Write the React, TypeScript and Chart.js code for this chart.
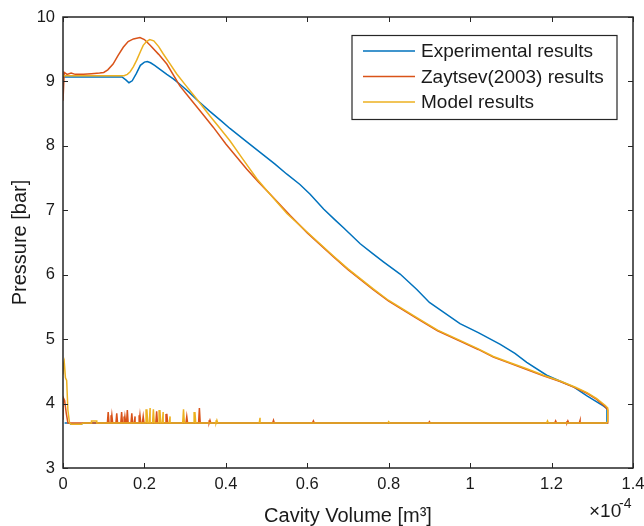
import React, { useEffect, useRef } from 'react';
import { Chart, registerables } from 'chart.js';

Chart.register(...registerables);

// ---------- data (volume in 1e-4 m^3, pressure in bar) ----------
const seriesLabels = ['Experimental results', 'Zaytsev(2003) results', 'Model results'];
const seriesColors = ['#0072BD', '#D95319', '#EDB120'];

const xTickValues = [0, 0.2, 0.4, 0.6, 0.8, 1, 1.2, 1.4];
const yTickValues = [3, 4, 5, 6, 7, 8, 9, 10];

const expVolume = [0, 0.05, 0.10, 0.145, 0.155, 0.162, 0.170, 0.180, 0.190, 0.200, 0.207, 0.215, 0.225, 0.240, 0.255, 0.271, 0.290, 0.310, 0.328, 0.360, 0.390, 0.410, 0.450, 0.492, 0.520, 0.550, 0.582, 0.607, 0.640, 0.670, 0.689, 0.730, 0.760, 0.787, 0.828, 0.869, 0.900, 0.930, 0.975, 1.020, 1.074, 1.110, 1.139, 1.188, 1.220, 1.254, 1.287, 1.310, 1.328, 1.336];
const expPressure = [9.07, 9.07, 9.07, 9.07, 9.02, 8.98, 9.01, 9.12, 9.25, 9.30, 9.31, 9.29, 9.25, 9.18, 9.11, 9.04, 8.94, 8.83, 8.72, 8.54, 8.38, 8.27, 8.07, 7.86, 7.72, 7.56, 7.40, 7.25, 7.02, 6.84, 6.73, 6.48, 6.33, 6.20, 6.01, 5.77, 5.57, 5.44, 5.24, 5.10, 4.92, 4.78, 4.64, 4.44, 4.35, 4.26, 4.12, 4.03, 3.96, 3.92];
const expReturnVolume = [1.336, 1.336, 0.050, 0.045, 0.020, 0.015, 0.004];
const expReturnPressure = [3.92, 3.70, 3.70, 3.68, 3.68, 3.70, 3.70];
const expSpikeVolume: number[] = [];
const expSpikePressure: number[] = [];

const zayVolume = [0, 0.003, 0.010, 0.020, 0.030, 0.050, 0.070, 0.090, 0.100, 0.110, 0.123, 0.135, 0.148, 0.160, 0.173, 0.189, 0.200, 0.214, 0.235, 0.255, 0.287, 0.310, 0.337, 0.369, 0.400, 0.451, 0.480, 0.509, 0.558, 0.600, 0.664, 0.700, 0.762, 0.800, 0.870, 0.920, 0.975, 1.020, 1.057, 1.100, 1.139, 1.180, 1.221, 1.260, 1.287, 1.310, 1.332, 1.338];
const zayPressure = [8.70, 9.14, 9.11, 9.13, 9.11, 9.11, 9.12, 9.13, 9.14, 9.18, 9.27, 9.40, 9.53, 9.62, 9.66, 9.68, 9.65, 9.56, 9.42, 9.27, 8.93, 8.75, 8.54, 8.29, 8.03, 7.64, 7.44, 7.25, 6.92, 6.65, 6.28, 6.08, 5.77, 5.59, 5.32, 5.13, 4.97, 4.84, 4.72, 4.62, 4.53, 4.43, 4.34, 4.24, 4.16, 4.07, 3.95, 3.90];
const zayReturnVolume = [1.338, 1.338, 0.012, 0.008, 0.004, 0.001, 0];
const zayReturnPressure = [3.90, 3.70, 3.70, 3.85, 4.05, 4.09, 3.75];
const zaySpikeVolume = [0.111, 0.120, 0.132, 0.144, 0.152, 0.158, 0.169, 0.177, 0.189, 0.197, 0.230, 0.255, 0.304, 0.335, 0.361, 0.517, 0.615, 0.90, 1.21, 1.24, 1.27];
const zaySpikePressure = [3.87, 3.82, 3.85, 3.87, 3.80, 3.90, 3.85, 3.80, 3.82, 3.80, 3.88, 3.84, 3.80, 3.93, 3.74, 3.74, 3.73, 3.72, 3.73, 3.73, 3.74];

const modelVolume = [0, 0.050, 0.100, 0.150, 0.158, 0.165, 0.173, 0.181, 0.190, 0.197, 0.205, 0.213, 0.223, 0.235, 0.246, 0.260, 0.279, 0.300, 0.328, 0.360, 0.382, 0.410, 0.440, 0.476, 0.500, 0.550, 0.600, 0.664, 0.700, 0.762, 0.800, 0.870, 0.920, 0.975, 1.020, 1.057, 1.100, 1.139, 1.180, 1.221, 1.260, 1.287, 1.310, 1.332, 1.338];
const modelPressure = [9.09, 9.09, 9.09, 9.09, 9.11, 9.15, 9.23, 9.33, 9.46, 9.56, 9.62, 9.65, 9.63, 9.54, 9.43, 9.30, 9.12, 8.95, 8.73, 8.47, 8.30, 8.08, 7.81, 7.49, 7.31, 6.95, 6.66, 6.29, 6.09, 5.78, 5.60, 5.33, 5.14, 4.98, 4.85, 4.73, 4.63, 4.54, 4.44, 4.35, 4.25, 4.17, 4.08, 3.97, 3.93];
const modelReturnVolume = [1.338, 1.338, 1.335, 0.083, 0.083, 0.070, 0.070, 0.050, 0.045, 0.020, 0.016, 0.012, 0.009, 0.006, 0.003, 0.001, 0];
const modelReturnPressure = [3.93, 3.72, 3.70, 3.70, 3.73, 3.73, 3.70, 3.70, 3.68, 3.68, 3.70, 3.90, 4.36, 4.40, 4.65, 4.60, 4.45];
const modelSpikeVolume = [0.206, 0.214, 0.222, 0.238, 0.246, 0.263, 0.296, 0.324, 0.378, 0.484, 0.80, 1.19];
const modelSpikePressure = [3.91, 3.93, 3.91, 3.90, 3.87, 3.80, 3.91, 3.87, 3.74, 3.78, 3.72, 3.73];

const BASE_PRESSURE = 3.70;
const SAMPLE_STEP = 0.002;

type Pt = { x: number; y: number | null };

function buildCycle(vol: number[], pres: number[], rVol: number[], rPres: number[], sVol: number[], sPres: number[]): Pt[] {
  const upper: Pt[] = vol.map((v, i) => ({ x: v, y: pres[i] }));
  const ret: Pt[] = rVol.map((v, i) => ({ x: v, y: rPres[i] }));
  sVol.forEach((v, i) => {
    ret.push({ x: v + SAMPLE_STEP, y: BASE_PRESSURE });
    ret.push({ x: v, y: sPres[i] });
    ret.push({ x: v - SAMPLE_STEP, y: BASE_PRESSURE });
  });
  ret.sort((a, b) => b.x - a.x);
  return [...upper, ...ret];
}

const FONT = "'Liberation Sans', Arial, Helvetica, sans-serif";
const AXIS_COLOR = '#262626';

const framePlugin = {
  id: 'frameLegend',
  afterDraw(chart: any) {
    const { ctx, chartArea: a, scales } = chart;
    ctx.save();
    // box
    ctx.strokeStyle = AXIS_COLOR;
    ctx.lineWidth = 1.5;
    ctx.strokeRect(a.left, a.top, a.right - a.left, a.bottom - a.top);
    // inward ticks
    ctx.lineWidth = 1;
    ctx.beginPath();
    scales.x.ticks.forEach((t: any) => {
      const px = Math.round(scales.x.getPixelForValue(t.value)) + 0.5;
      ctx.moveTo(px, a.bottom); ctx.lineTo(px, a.bottom - 5);
      ctx.moveTo(px, a.top); ctx.lineTo(px, a.top + 5);
    });
    scales.y.ticks.forEach((t: any) => {
      const py = Math.round(scales.y.getPixelForValue(t.value)) + 0.5;
      ctx.moveTo(a.left, py); ctx.lineTo(a.left + 5, py);
      ctx.moveTo(a.right, py); ctx.lineTo(a.right - 5, py);
    });
    ctx.stroke();

    // legend
    const lx0 = a.right - 281, ly0 = a.top + 18.5, lw = 265, lh = 84;
    ctx.fillStyle = '#ffffff';
    ctx.fillRect(lx0, ly0, lw, lh);
    ctx.strokeStyle = AXIS_COLOR;
    ctx.lineWidth = 1.2;
    ctx.strokeRect(lx0, ly0, lw, lh);
    ctx.font = `19px ${FONT}`;
    ctx.textBaseline = 'middle';
    ctx.textAlign = 'left';
    chart.data.datasets.forEach((ds: any, i: number) => {
      const y = ly0 + 15.5 + i * 25.5;
      ctx.strokeStyle = ds.borderColor;
      ctx.lineWidth = 1.5;
      ctx.beginPath();
      ctx.moveTo(lx0 + 11, y); ctx.lineTo(lx0 + 63, y);
      ctx.stroke();
      ctx.fillStyle = '#1a1a1a';
      ctx.fillText(ds.label, lx0 + 69, y + 1);
    });

    // exponent label
    ctx.fillStyle = '#1a1a1a';
    ctx.textBaseline = 'alphabetic';
    ctx.font = `19px ${FONT}`;
    ctx.fillText('\u00d710', a.right - 44, 517);
    ctx.font = `14px ${FONT}`;
    ctx.fillText('-4', a.right - 14, 508);
    ctx.restore();
  },
};

export default function App() {
  const ref = useRef<HTMLCanvasElement | null>(null);
  useEffect(() => {
    if (!ref.current) return;
    const cycles = [
      buildCycle(expVolume, expPressure, expReturnVolume, expReturnPressure, expSpikeVolume, expSpikePressure),
      buildCycle(zayVolume, zayPressure, zayReturnVolume, zayReturnPressure, zaySpikeVolume, zaySpikePressure),
      buildCycle(modelVolume, modelPressure, modelReturnVolume, modelReturnPressure, modelSpikeVolume, modelSpikePressure),
    ];
    const chart = new Chart(ref.current, {
      type: 'scatter',
      data: {
        datasets: cycles.map((pts, i) => ({
          label: seriesLabels[i],
          data: pts,
          showLine: true,
          borderColor: seriesColors[i],
          backgroundColor: seriesColors[i],
          borderWidth: 1.5,
          pointRadius: 0,
          tension: 0,
          spanGaps: false,
          order: 3 - i,
        })),
      },
      options: {
        responsive: false,
        animation: false,
        events: [],
        layout: { padding: { top: 17, right: 11, left: 0, bottom: 0 } },
        plugins: { legend: { display: false }, tooltip: { enabled: false } },
        scales: {
          x: {
            type: 'linear',
            min: 0,
            max: 1.4,
            afterFit: (s: any) => { s.height = 58; s.paddingLeft = 0; s.paddingRight = 0; },
            afterBuildTicks: (s: any) => { s.ticks = xTickValues.map((v) => ({ value: v })); },
            grid: { display: false, drawTicks: false },
            border: { display: false },
            ticks: {
              padding: 7,
              color: '#1a1a1a',
              font: { family: FONT, size: 16.5 },
              callback: (v: any) => String(Number(Number(v).toFixed(1))),
              maxRotation: 0,
            },
            title: {
              display: true,
              text: 'Cavity Volume [m\u00b3]',
              color: '#1a1a1a',
              font: { family: FONT, size: 20 },
              padding: { top: 0, bottom: -2 },
            },
          },
          y: {
            type: 'linear',
            min: 3,
            max: 10,
            afterFit: (s: any) => { s.width = 63; s.paddingTop = 0; s.paddingBottom = 0; },
            afterBuildTicks: (s: any) => { s.ticks = yTickValues.map((v) => ({ value: v })); },
            grid: { display: false, drawTicks: false },
            border: { display: false },
            ticks: {
              padding: 8,
              color: '#1a1a1a',
              font: { family: FONT, size: 16.5 },
            },
            title: {
              display: true,
              text: 'Pressure [bar]',
              color: '#1a1a1a',
              font: { family: FONT, size: 20 },
              padding: { top: 8, bottom: 0 },
            },
          },
        },
      },
      plugins: [framePlugin],
    } as any);
    return () => chart.destroy();
  }, []);
  return (
    <div style={{ position: 'absolute', left: 0, top: 0, width: 644, height: 526, background: '#fff' }}>
      <canvas ref={ref} width={644} height={526} />
    </div>
  );
}
